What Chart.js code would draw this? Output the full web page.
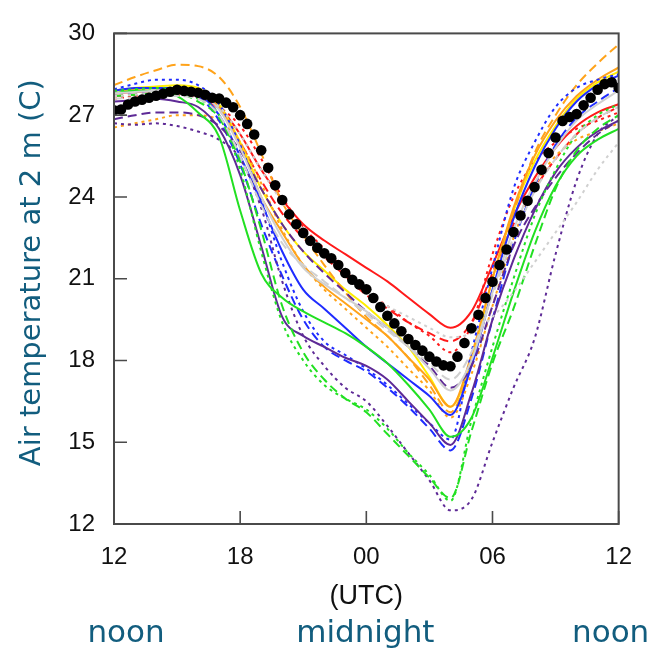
<!DOCTYPE html>
<html>
<head>
<meta charset="utf-8">
<script src="https://cdn.jsdelivr.net/npm/chart.js@4.4.0/dist/chart.umd.min.js"></script>
<style>
  html, body { margin: 0; padding: 0; background: #fff; }
  #wrap { width: 651px; height: 652px; }
</style>
</head>
<body>
<div id="wrap"><canvas id="tempChart" width="651" height="652"></canvas></div>
<script>
// hours after 12 UTC
const hours = [0, 1, 2, 3, 4, 5, 6, 7, 8, 9, 10, 11, 12, 13, 14, 15, 16, 17, 18, 19, 20, 21, 22, 23, 24];
// observation times, every 20 minutes
const obsHours = [0, 0.333, 0.667, 1, 1.333, 1.667, 2, 2.333, 2.667, 3, 3.333, 3.667, 4, 4.333, 4.667, 5, 5.333, 5.667,
    6, 6.333, 6.667, 7, 7.333, 7.667, 8, 8.333, 8.667, 9, 9.333, 9.667, 10, 10.333, 10.667, 11, 11.333, 11.667,
    12, 12.333, 12.667, 13, 13.333, 13.667, 14, 14.333, 14.667, 15, 15.333, 15.667, 16, 16.333, 16.667, 17, 17.333, 17.667,
    18, 18.333, 18.667, 19, 19.333, 19.667, 20, 20.333, 20.667, 21, 21.333, 21.667, 22, 22.333, 22.667, 23, 23.333, 23.667, 24];

const xTickValues = [0, 6, 12, 18, 24];
const xTickLabels = ['12', '18', '00', '06', '12'];
const yTickValues = [12, 15, 18, 21, 24, 27, 30];
const dayLabels = ['noon', 'midnight', 'noon'];

// observed 2 m temperature (black dots)
const obsTemp = [27.18, 27.21, 27.39, 27.5, 27.57, 27.64, 27.71, 27.79, 27.86, 27.93, 27.89, 27.86, 27.82, 27.75, 27.64, 27.61, 27.46, 27.29,
    27.0, 26.68, 26.29, 25.71, 25.07, 24.43, 23.89, 23.36, 23.0, 22.68, 22.39, 22.14, 21.93, 21.75, 21.5, 21.21, 20.96, 20.79,
    20.61, 20.29, 19.96, 19.64, 19.36, 19.07, 18.79, 18.57, 18.36, 18.14, 17.96, 17.82, 17.79, 18.14, 18.64, 19.18, 19.68, 20.29,
    20.89, 21.5, 22.07, 22.71, 23.32, 23.86, 24.36, 25.0, 25.61, 26.18, 26.79, 26.93, 27.04, 27.36, 27.64, 27.93, 28.14, 28.21, 28.0];

// model runs
const redSolid     = [27.8, 27.85, 27.9, 27.9, 27.8, 27.3, 26.3, 25.0, 23.9, 23.0, 22.4, 21.9, 21.4, 20.9, 20.3, 19.7, 19.2, 19.8, 21.5, 23.3, 24.7, 25.8, 26.6, 27.1, 27.4];
const redDashed    = [27.7, 27.75, 27.8, 27.8, 27.7, 27.2, 26.0, 24.6, 23.4, 22.5, 21.8, 21.1, 20.4, 19.9, 19.4, 19.0, 18.7, 19.4, 21.2, 23.0, 24.3, 25.4, 26.3, 26.9, 27.3];
const redDotted    = [27.6, 27.7, 27.75, 27.75, 27.65, 27.3, 26.6, 25.4, 24.0, 22.9, 22.1, 21.3, 20.5, 20.0, 19.4, 18.9, 18.3, 19.3, 21.9, 24.0, 25.3, 26.0, 26.5, 26.8, 27.1];
const orangeSolid  = [27.9, 27.95, 28.0, 28.0, 27.9, 27.3, 25.9, 24.0, 22.7, 21.5, 20.7, 20.1, 19.5, 18.9, 18.1, 17.3, 16.3, 18.2, 21.0, 23.6, 25.5, 26.8, 27.7, 28.3, 28.75];
const orangeDashed = [28.1, 28.4, 28.65, 28.85, 28.8, 28.4, 27.3, 25.6, 23.8, 22.6, 21.5, 20.5, 19.6, 18.9, 18.1, 17.1, 16.1, 17.9, 20.6, 23.4, 25.6, 27.0, 28.1, 28.9, 29.6];
const orangeDotted = [26.55, 26.7, 26.85, 27.0, 27.0, 26.8, 26.0, 24.5, 22.8, 21.5, 20.6, 19.9, 19.2, 18.5, 17.7, 16.9, 15.9, 17.5, 20.0, 22.5, 24.4, 25.5, 26.1, 26.4, 26.7];
const yellowSolid  = [27.9, 28.0, 28.05, 28.1, 28.0, 27.4, 26.0, 24.3, 23.0, 22.0, 21.3, 20.6, 20.0, 19.3, 18.5, 17.4, 16.3, 18.0, 21.0, 23.5, 25.3, 26.6, 27.6, 28.2, 28.6];
const graySolid    = [27.8, 27.85, 27.9, 27.9, 27.8, 27.2, 25.8, 24.0, 22.5, 21.4, 20.8, 20.3, 19.8, 19.2, 18.5, 17.7, 16.9, 18.0, 20.5, 22.8, 24.5, 25.8, 26.8, 27.4, 27.9];
const grayDashed   = [27.6, 27.65, 27.7, 27.7, 27.6, 27.0, 25.5, 23.7, 22.3, 21.5, 20.9, 20.3, 19.7, 19.1, 18.5, 17.9, 17.3, 18.3, 20.4, 22.5, 24.2, 25.4, 26.3, 26.9, 27.3];
const grayDotted   = [27.7, 27.75, 27.8, 27.8, 27.7, 27.3, 26.3, 25.0, 23.8, 22.8, 22.0, 21.2, 20.5, 20.0, 19.6, 19.2, 18.85, 19.0, 19.6, 20.5, 21.6, 22.7, 23.8, 25.0, 26.0];
const blueSolid    = [27.9, 28.0, 28.0, 28.0, 27.8, 27.0, 25.5, 23.8, 22.0, 20.6, 19.9, 19.2, 18.5, 17.9, 17.3, 16.7, 16.0, 17.8, 20.6, 23.2, 25.1, 26.5, 27.5, 28.1, 28.45];
const blueDashed   = [27.8, 27.85, 27.9, 27.9, 27.7, 26.8, 25.2, 23.0, 21.1, 19.5, 18.5, 18.0, 17.6, 17.0, 16.3, 15.5, 14.7, 16.6, 19.5, 22.3, 24.4, 25.9, 26.9, 27.5, 28.0];
const blueDotted   = [27.95, 28.15, 28.3, 28.3, 28.1, 27.4, 25.9, 23.9, 21.6, 19.8, 18.7, 18.2, 17.7, 17.1, 16.4, 15.7, 15.1, 18.3, 21.4, 24.3, 26.0, 27.3, 28.0, 28.3, 28.5];
const purpleSolid  = [27.5, 27.55, 27.6, 27.5, 27.3, 26.5, 24.8, 22.2, 19.6, 18.9, 18.5, 18.1, 17.8, 17.3, 16.5, 15.7, 14.9, 16.8, 19.5, 21.7, 23.5, 24.9, 25.8, 26.4, 26.8];
const purpleDashed = [26.85, 27.0, 27.1, 27.1, 27.0, 26.6, 25.7, 24.3, 23.0, 22.0, 21.2, 20.5, 19.8, 19.2, 18.5, 17.8, 17.0, 17.8, 20.0, 22.2, 23.6, 24.7, 25.6, 26.3, 26.8];
const purpleDotted = [26.7, 26.65, 26.7, 26.6, 26.4, 26.1, 25.4, 23.6, 20.9, 18.9, 17.8, 17.0, 16.5, 15.6, 14.6, 13.6, 12.5, 12.9, 15.0, 17.0, 18.8, 21.9, 24.6, 26.3, 27.0];
const greenSolid   = [27.8, 27.9, 27.9, 27.7, 27.1, 26.2, 23.5, 21.2, 20.3, 19.8, 19.4, 19.0, 18.5, 17.9, 17.1, 16.2, 15.2, 15.9, 18.1, 20.5, 22.7, 24.4, 25.5, 26.1, 26.5];
const greenDashed  = [27.7, 27.75, 27.8, 27.8, 27.5, 26.9, 25.3, 22.8, 20.0, 18.3, 17.3, 16.6, 16.1, 15.3, 14.5, 13.7, 12.95, 15.4, 17.9, 19.9, 22.2, 24.3, 25.7, 26.5, 27.0];
const greenDotted  = [27.9, 27.95, 28.0, 27.9, 27.6, 27.0, 25.0, 22.0, 19.4, 18.0, 17.1, 16.6, 16.2, 15.5, 14.6, 13.8, 12.85, 15.8, 18.5, 21.0, 23.3, 25.0, 26.3, 27.0, 27.4];

const DASHED = [9, 5];
const DOTTED = [3, 4];

const runs = [
    { data: grayDotted,   color: '#d0d0d0', dash: DOTTED },
    { data: grayDashed,   color: '#d0d0d0', dash: DASHED },
    { data: graySolid,    color: '#d0d0d0', dash: [] },
    { data: greenDashed,  color: '#22e022', dash: DASHED },
    { data: greenDotted,  color: '#22e022', dash: DOTTED },
    { data: greenSolid,   color: '#22e022', dash: [] },
    { data: purpleDotted, color: '#5e2a96', dash: DOTTED },
    { data: purpleDashed, color: '#5e2a96', dash: DASHED },
    { data: purpleSolid,  color: '#5e2a96', dash: [] },
    { data: blueDashed,   color: '#1f2cff', dash: DASHED },
    { data: blueDotted,   color: '#1f2cff', dash: DOTTED },
    { data: blueSolid,    color: '#1f2cff', dash: [] },
    { data: orangeDotted, color: '#ffa31a', dash: DOTTED },
    { data: orangeDashed, color: '#ffa31a', dash: DASHED },
    { data: orangeSolid,  color: '#ffa31a', dash: [] },
    { data: yellowSolid,  color: '#ffee00', dash: [] },
    { data: redDotted,    color: '#ff1a1a', dash: DOTTED },
    { data: redDashed,    color: '#ff1a1a', dash: DASHED },
    { data: redSolid,     color: '#ff1a1a', dash: [] }
];

const TEAL = '#125d7e';

// box round the plot and the inward tick marks
const frameAndTicks = {
    id: 'frameAndTicks',
    afterDatasetsDraw(chart) {
        const { ctx, chartArea: a, scales: { x, y } } = chart;
        ctx.save();
        ctx.strokeStyle = '#4a4a4a';
        ctx.lineWidth = 2;
        ctx.strokeRect(a.left, a.top, a.right - a.left, a.bottom - a.top);
        ctx.lineWidth = 1.6;
        ctx.beginPath();
        xTickValues.forEach(v => {
            const px = x.getPixelForValue(v);
            ctx.moveTo(px, a.bottom);
            ctx.lineTo(px, a.bottom - 13);
        });
        yTickValues.forEach(v => {
            const py = y.getPixelForValue(v);
            ctx.moveTo(a.left, py);
            ctx.lineTo(a.left + 13, py);
        });
        ctx.stroke();
        ctx.restore();
    },
    afterDraw(chart) {
        const { ctx, chartArea: a, scales: { x } } = chart;
        ctx.save();
        // y axis title
        ctx.translate(32, (a.top + a.bottom) / 2 - 6);
        ctx.rotate(-Math.PI / 2);
        ctx.fillStyle = TEAL;
        ctx.font = '29px "DejaVu Sans"';
        ctx.textAlign = 'center';
        ctx.textBaseline = 'middle';
        ctx.fillText('Air temperature at 2 m (C)', 0, 0);
        ctx.restore();

        ctx.save();
        ctx.fillStyle = '#111';
        ctx.font = '27px "Liberation Sans"';
        ctx.textAlign = 'center';
        ctx.textBaseline = 'middle';
        ctx.fillText('(UTC)', (a.left + a.right) / 2, 597);

        ctx.fillStyle = TEAL;
        ctx.font = '31px "DejaVu Sans"';
        ctx.fillText(dayLabels[0], x.getPixelForValue(0) + 12, 634);
        ctx.fillText(dayLabels[1], x.getPixelForValue(12) - 1, 634);
        ctx.fillText(dayLabels[2], x.getPixelForValue(24) - 8, 634);
        ctx.restore();
    }
};

document.addEventListener('DOMContentLoaded', function() {
    const ctx = document.getElementById('tempChart');

    const datasets = runs.map(r => ({
        data: hours.map((h, i) => ({ x: h, y: r.data[i] })),
        borderColor: r.color,
        borderWidth: 2,
        borderDash: r.dash,
        pointRadius: 0,
        cubicInterpolationMode: 'monotone',
        fill: false,
        order: 1
    }));

    datasets.push({
        data: obsHours.map((h, i) => ({ x: h, y: obsTemp[i] })),
        showLine: false,
        pointRadius: 5.3,
        pointBackgroundColor: '#000',
        pointBorderColor: '#000',
        pointBorderWidth: 0,
        order: 0
    });

    new Chart(ctx, {
        type: 'line',
        data: { datasets: datasets },
        options: {
            responsive: false,
            animation: false,
            layout: { padding: { top: 20, right: 32, left: 0, bottom: 0 } },
            plugins: {
                legend: { display: false },
                tooltip: { enabled: false }
            },
            scales: {
                x: {
                    type: 'linear',
                    min: 0,
                    max: 24,
                    grid: { display: false, drawTicks: false },
                    border: { display: false },
                    afterFit: s => { s.height = 128; },
                    afterBuildTicks: s => { s.ticks = xTickValues.map(v => ({ value: v })); },
                    ticks: {
                        padding: 19,
                        color: '#111',
                        font: { family: '"Liberation Sans", Arial', size: 24 },
                        maxRotation: 0,
                        autoSkip: false,
                        callback: (v) => xTickLabels[xTickValues.indexOf(v)]
                    }
                },
                y: {
                    min: 12,
                    max: 30,
                    grid: { display: false, drawTicks: false },
                    border: { display: false },
                    afterFit: s => { s.width = 114; },
                    afterBuildTicks: s => { s.ticks = yTickValues.map(v => ({ value: v })); },
                    ticks: {
                        padding: 19,
                        color: '#111',
                        font: { family: '"Liberation Sans", Arial', size: 24 }
                    }
                }
            }
        },
        plugins: [frameAndTicks]
    });
});
</script>
</body>
</html>
